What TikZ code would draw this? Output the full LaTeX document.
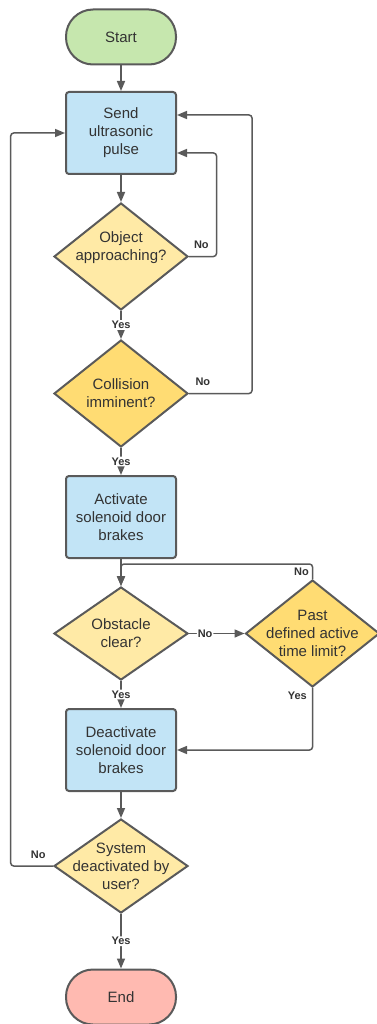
\documentclass[tikz,border=0pt]{standalone}
\usepackage{fontspec}
\setmainfont{Liberation Sans}
\usetikzlibrary{shapes,arrows.meta,positioning}

\definecolor{lineGray}{HTML}{5A5A5A}
\definecolor{textGray}{HTML}{333333}
\definecolor{startGreen}{HTML}{C6E7AE}
\definecolor{boxBlue}{HTML}{C2E4F6}
\definecolor{askYellow}{HTML}{FFEAA6}
\definecolor{warnYellow}{HTML}{FFDC73}
\definecolor{stopRed}{HTML}{FFBAB1}

\tikzset{
  terminal/.style={rectangle, rounded corners=27pt, draw=lineGray, line width=2pt,
    minimum width=110pt, minimum height=55pt, text=textGray, font=\fontsize{15}{18}\selectfont},
  process/.style={rectangle, rounded corners=3pt, draw=lineGray, line width=2pt, fill=boxBlue,
    minimum width=110pt, minimum height=82pt, align=center, text=textGray, font=\fontsize{15}{18}\selectfont},
  decision/.style={diamond, draw=lineGray, line width=2pt, minimum width=134pt, minimum height=107pt, inner sep=0pt},
  dtext/.style={align=center, inner sep=0pt, text=textGray, font=\fontsize{15}{18}\selectfont},
  ask/.style={label={[dtext]center:{#1}}},
  flow/.style={draw=lineGray, line width=1.5pt, rounded corners=3pt, -{Triangle[length=10pt,width=8pt]}},
  lbl/.style={fill=white, inner sep=1pt, text=textGray, font=\bfseries\fontsize{11}{13}\selectfont},
  nolbl/.style={inner sep=1pt, text=textGray, font=\bfseries\fontsize{11}{13}\selectfont}
}

\begin{document}
\begin{tikzpicture}[x=1pt,y=-1pt]
\useasboundingbox (0,0) rectangle (376,1024);

% the main column
\node[terminal, fill=startGreen] (start) at (121,37) {Start};
\node[process] (send) at (121,133) {Send\\ultrasonic\\pulse};
\node[decision, fill=askYellow, label={[dtext,yshift=9pt]center:{Object\\approaching?}}] (obj) at (121,256.5) {};
\node[decision, fill=warnYellow, ask={Collision\\imminent?}] (coll) at (121,393.5) {};
\node[process] (act) at (121,517) {Activate\\solenoid door\\brakes};
\node[decision, fill=askYellow, minimum height=93pt, ask={Obstacle\\clear?}] (obs) at (121,633.5) {};
\node[decision, fill=warnYellow, ask={Past\\defined active\\time limit?}] (past) at (312.5,633.5) {};
\node[process] (deact) at (121,750) {Deactivate\\solenoid door\\brakes};
\node[decision, fill=askYellow, minimum height=94pt, ask={System\\deactivated by\\user?}] (sys) at (121,866) {};
\node[terminal, fill=stopRed] (finish) at (121,997) {End};

% straight steps
\foreach \a/\b in {start/send, send/obj, act/obs, deact/sys}
  \draw[flow] (\a) -- (\b);

% yes branches
\foreach \a/\b in {obj/coll, coll/act, obs/deact, sys/finish}
  \draw[flow] (\a.south) -- node[lbl]{Yes} (\b.north);

% no branches back to the pulse
\draw[flow] (obj.east) -- node[nolbl, above=6pt, pos=0.45]{No} ++(27.5,0) |- ([yshift=-20pt]send.east);
\draw[flow] (coll.east) -- node[nolbl, above=6pt, pos=0.22]{No} ++(63,0) |- ([yshift=18pt]send.east);
\draw[flow] (sys.west) -- node[nolbl, above=6pt, pos=0.35]{No} ++(-42.3,0) |- (send.west);

% obstacle and time limit
\draw[flow] (obs.east) -- node[lbl, pos=0.29]{No} (past.west);
\draw[flow] (past.north) -- node[nolbl, left=2pt]{No} ++(0,-15) -| (obs.north);
\draw[flow] (past.south) |- node[nolbl, left=4pt, pos=0.06]{Yes} (deact.east);
\end{tikzpicture}
\end{document}
